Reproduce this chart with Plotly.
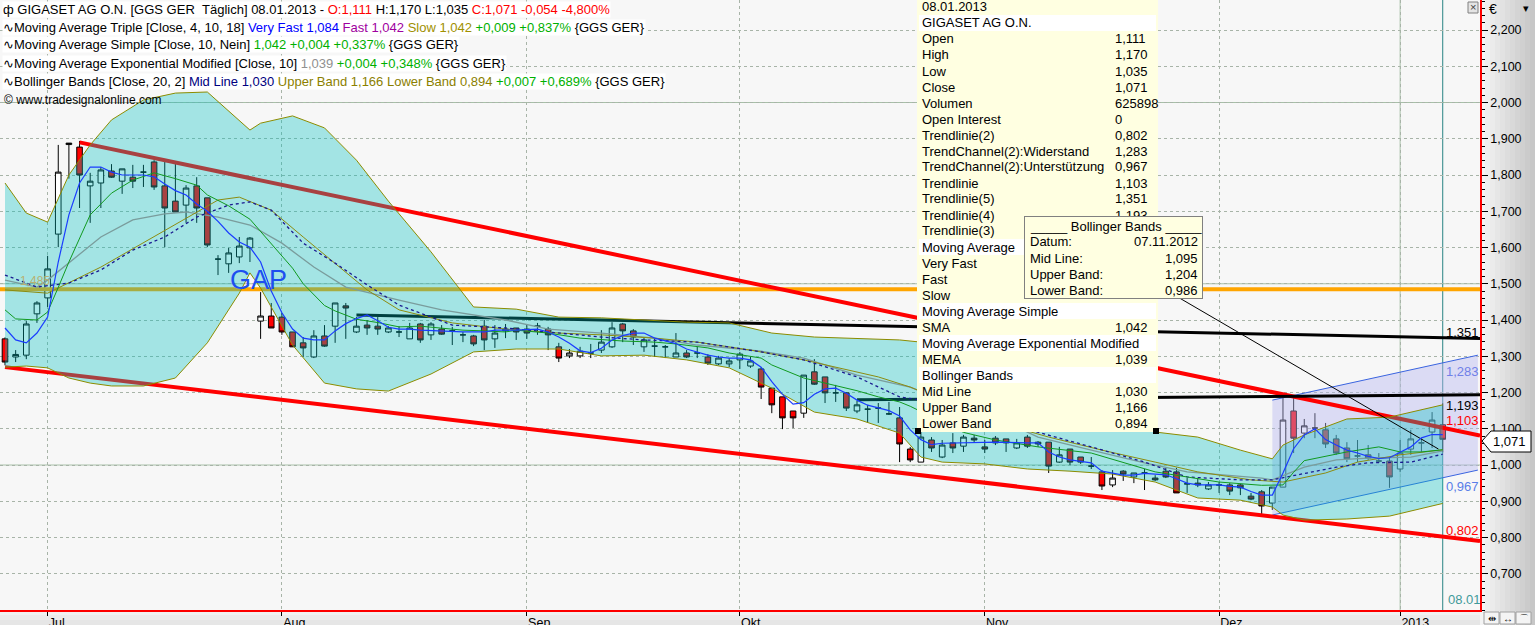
import plotly.graph_objects as go

# ---------------- data ----------------
month_tick_idx = [4, 26, 49, 69, 92, 114, 131]
month_tick_text = ["Jul", "Aug", "Sep", "Okt", "Nov", "Dez", "2013"]
price_ticks = [0.7, 0.8, 0.9, 1.0, 1.1, 1.2, 1.3, 1.4, 1.5, 1.6, 1.7, 1.8, 1.9, 2.0, 2.1, 2.2]

opens = [1.348, 1.298, 1.303, 1.417, 1.461, 1.637, 1.884, 1.877, 1.770, 1.778,
         1.811, 1.783, 1.794, 1.808, 1.836, 1.770, 1.728, 1.717, 1.770, 1.737,
         1.568, 1.555, 1.574, 1.599, 1.397, 1.411, 1.408, 1.367, 1.337, 1.298,
         1.356, 1.383, 1.439, 1.367, 1.386, 1.383, 1.367, 1.367, 1.348, 1.389,
         1.359, 1.375, 1.370, 1.359, 1.356, 1.383, 1.348, 1.370, 1.378, 1.375,
         1.383, 1.375, 1.326, 1.301, 1.301, 1.309, 1.317, 1.326, 1.389, 1.370,
         1.326, 1.328, 1.326, 1.298, 1.309, 1.309, 1.298, 1.279, 1.279, 1.290,
         1.273, 1.265, 1.212, 1.188, 1.149, 1.143, 1.257, 1.243, 1.199, 1.199,
         1.149, 1.154, 1.157, 1.141, 1.130, 1.044, 1.008, 1.069, 1.022, 1.061,
         1.052, 1.074, 1.050, 1.074, 1.072, 1.047, 1.077, 1.063, 1.063, 1.008,
         1.044, 1.022, 0.997, 0.981, 0.945, 0.983, 0.967, 0.978, 0.964, 0.983,
         0.981, 0.948, 0.950, 0.934, 0.945, 0.945, 0.945, 0.914, 0.926, 0.895,
         0.939, 1.149, 1.088, 1.102, 1.097, 1.072, 1.047, 1.025, 1.028, 1.011,
         1.011, 0.989, 1.044, 1.061, 1.091, 1.111]
highs = [1.352, 1.317, 1.397, 1.452, 1.577, 1.883, 1.888, 1.894, 1.806, 1.822,
         1.830, 1.817, 1.828, 1.828, 1.841, 1.841, 1.833, 1.772, 1.794, 1.737,
         1.579, 1.599, 1.629, 1.629, 1.477, 1.447, 1.419, 1.367, 1.353, 1.372,
         1.386, 1.447, 1.447, 1.408, 1.400, 1.408, 1.383, 1.383, 1.392, 1.392,
         1.394, 1.386, 1.381, 1.367, 1.359, 1.400, 1.386, 1.389, 1.378, 1.386,
         1.392, 1.381, 1.337, 1.320, 1.326, 1.334, 1.372, 1.394, 1.392, 1.375,
         1.353, 1.350, 1.331, 1.364, 1.317, 1.326, 1.306, 1.301, 1.295, 1.312,
         1.298, 1.270, 1.212, 1.188, 1.149, 1.248, 1.292, 1.243, 1.221, 1.201,
         1.177, 1.166, 1.171, 1.174, 1.160, 1.050, 1.102, 1.077, 1.069, 1.088,
         1.083, 1.083, 1.069, 1.080, 1.072, 1.072, 1.083, 1.066, 1.063, 1.050,
         1.044, 1.022, 1.022, 0.986, 0.986, 0.986, 0.978, 0.989, 0.972, 0.992,
         0.992, 0.964, 0.964, 0.953, 0.953, 0.950, 0.948, 0.923, 0.931, 0.939,
         1.185, 1.185, 1.127, 1.143, 1.116, 1.083, 1.063, 1.069, 1.055, 1.033,
         1.022, 1.069, 1.097, 1.074, 1.146, 1.170]
lows = [1.275, 1.284, 1.292, 1.392, 1.436, 1.601, 1.790, 1.709, 1.668, 1.709,
        1.792, 1.748, 1.764, 1.767, 1.759, 1.601, 1.698, 1.668, 1.668, 1.601,
        1.524, 1.530, 1.557, 1.560, 1.348, 1.378, 1.359, 1.326, 1.298, 1.295,
        1.326, 1.337, 1.348, 1.364, 1.359, 1.359, 1.364, 1.353, 1.348, 1.337,
        1.345, 1.359, 1.331, 1.339, 1.328, 1.317, 1.323, 1.350, 1.345, 1.348,
        1.359, 1.317, 1.284, 1.295, 1.295, 1.295, 1.309, 1.323, 1.339, 1.331,
        1.312, 1.298, 1.295, 1.298, 1.295, 1.295, 1.276, 1.276, 1.270, 1.265,
        1.268, 1.182, 1.143, 1.099, 1.102, 1.130, 1.221, 1.171, 1.174, 1.149,
        1.143, 1.116, 1.116, 1.138, 1.008, 1.008, 1.008, 1.036, 1.019, 1.033,
        1.036, 1.063, 1.033, 1.055, 1.036, 1.044, 1.047, 1.050, 0.978, 1.006,
        1.000, 1.003, 0.989, 0.931, 0.939, 0.956, 0.950, 0.931, 0.956, 0.964,
        0.923, 0.923, 0.939, 0.931, 0.923, 0.917, 0.917, 0.903, 0.862, 0.876,
        0.939, 1.033, 1.074, 1.074, 1.047, 1.028, 1.008, 1.008, 1.014, 1.006,
        0.937, 0.981, 1.028, 1.036, 1.047, 1.035]
closes = [1.284, 1.305, 1.389, 1.447, 1.541, 1.808, 1.888, 1.800, 1.783, 1.814,
          1.794, 1.817, 1.783, 1.808, 1.767, 1.709, 1.698, 1.764, 1.709, 1.607,
          1.568, 1.585, 1.604, 1.626, 1.411, 1.378, 1.367, 1.326, 1.323, 1.356,
          1.328, 1.447, 1.433, 1.383, 1.378, 1.375, 1.378, 1.367, 1.378, 1.345,
          1.389, 1.361, 1.370, 1.359, 1.334, 1.345, 1.364, 1.375, 1.367, 1.364,
          1.383, 1.359, 1.295, 1.309, 1.314, 1.309, 1.339, 1.378, 1.370, 1.353,
          1.345, 1.328, 1.326, 1.309, 1.298, 1.309, 1.281, 1.295, 1.287, 1.306,
          1.287, 1.215, 1.166, 1.130, 1.130, 1.248, 1.223, 1.199, 1.199, 1.157,
          1.166, 1.154, 1.157, 1.141, 1.058, 1.014, 1.077, 1.047, 1.055, 1.047,
          1.077, 1.069, 1.044, 1.061, 1.061, 1.061, 1.052, 1.058, 0.997, 1.028,
          1.008, 1.008, 0.997, 0.942, 0.964, 0.975, 0.978, 0.978, 0.959, 0.967,
          0.923, 0.948, 0.945, 0.945, 0.945, 0.928, 0.937, 0.906, 0.887, 0.939,
          1.124, 1.074, 1.108, 1.102, 1.058, 1.033, 1.017, 1.025, 1.019, 1.011,
          0.967, 1.033, 1.072, 1.061, 1.124, 1.071]
day_idx = list(range(len(closes)))

# Bollinger Bands (20, 2) read at sample days
band_idx = [0, 2, 4, 6, 8, 10, 13, 16, 19, 22, 23, 24, 27, 30, 33, 36, 40, 44, 48, 52,
            56, 60, 64, 68, 72, 76, 80, 84, 86, 88, 92, 96, 100, 104, 108, 112, 116, 119, 120, 122,
            126, 130, 135]
band_upper = [1.778, 1.695, 1.670, 1.800, 1.883, 1.952, 2.007, 2.026, 2.029, 1.952,
              1.924, 1.943, 1.963, 1.930, 1.841, 1.728, 1.588, 1.436, 1.430, 1.408,
              1.406, 1.400, 1.394, 1.392, 1.364, 1.353, 1.350, 1.345, 1.339, 1.331,
              1.290, 1.221, 1.166, 1.119, 1.091, 1.077, 1.041, 1.017, 1.055, 1.083,
              1.127, 1.132, 1.166]
band_lower = [1.270, 1.273, 1.268, 1.240, 1.226, 1.218, 1.218, 1.240, 1.337, 1.474,
              1.530, 1.488, 1.331, 1.226, 1.210, 1.204, 1.251, 1.312, 1.320, 1.320,
              1.301, 1.303, 1.290, 1.268, 1.212, 1.146, 1.127, 1.088, 1.022, 1.008,
              1.003, 0.989, 0.983, 0.975, 0.953, 0.909, 0.903, 0.884, 0.862, 0.848,
              0.851, 0.859, 0.894]
mid_idx = [0, 3, 6, 9, 12, 15, 18, 21, 23, 25, 28, 31, 34, 37, 40, 42, 47, 52, 56, 60,
           65, 71, 75, 80, 84, 86, 97, 102, 107, 111, 116, 119, 125, 128, 132, 134, 135]
mid_line = [1.524, 1.491, 1.502, 1.538, 1.593, 1.629, 1.684, 1.717, 1.726, 1.703,
            1.612, 1.557, 1.497, 1.441, 1.408, 1.386, 1.378, 1.364, 1.353, 1.345,
            1.339, 1.312, 1.290, 1.243, 1.188, 1.179, 1.091, 1.050, 1.008, 0.967,
            0.959, 0.959, 0.994, 1.006, 1.008, 1.022, 1.030]

# Moving Average Triple: Very Fast (4)
vfast_idx = [0, 1, 2, 3, 4, 5, 6, 7, 8, 9, 10, 11, 13, 14, 15, 16, 17, 18, 19, 20,
             21, 22, 23, 24, 25, 26, 27, 28, 29, 30, 31, 32, 33, 34, 35, 36, 37, 38, 39, 41,
             43, 45, 46, 48, 50, 51, 52, 53, 54, 55, 56, 57, 58, 59, 60, 61, 62, 63, 64, 65,
             66, 67, 68, 69, 70, 71, 72, 73, 74, 75, 76, 77, 78, 79, 80, 81, 82, 83, 84, 85,
             86, 87, 88, 90, 93, 96, 97, 98, 99, 100, 101, 102, 103, 104, 105, 106, 107, 108, 109, 110,
             111, 112, 114, 115, 116, 117, 118, 119, 120, 121, 122, 123, 124, 125, 126, 127, 128, 129, 130, 131,
             132, 133, 134, 135]
very_fast = [1.378, 1.345, 1.337, 1.364, 1.408, 1.560, 1.690, 1.778, 1.822, 1.822,
             1.808, 1.800, 1.800, 1.795, 1.775, 1.757, 1.745, 1.720, 1.700, 1.672,
             1.640, 1.615, 1.601, 1.560, 1.480, 1.420, 1.375, 1.350, 1.345, 1.345,
             1.370, 1.390, 1.404, 1.414, 1.398, 1.380, 1.375, 1.375, 1.372, 1.369,
             1.367, 1.367, 1.372, 1.372, 1.375, 1.367, 1.353, 1.336, 1.315, 1.310,
             1.322, 1.345, 1.357, 1.364, 1.364, 1.350, 1.342, 1.335, 1.320, 1.311,
             1.303, 1.298, 1.295, 1.295, 1.290, 1.270, 1.230, 1.195, 1.168, 1.172,
             1.195, 1.210, 1.212, 1.198, 1.179, 1.165, 1.157, 1.150, 1.135, 1.097,
             1.070, 1.056, 1.060, 1.061, 1.063, 1.061, 1.061, 1.036, 1.022, 1.014,
             1.009, 1.006, 0.983, 0.977, 0.972, 0.972, 0.977, 0.975, 0.973, 0.962,
             0.950, 0.945, 0.945, 0.941, 0.939, 0.927, 0.917, 0.917, 0.978, 1.045,
             1.083, 1.100, 1.070, 1.055, 1.041, 1.033, 1.024, 1.018, 1.020, 1.035,
             1.050, 1.075, 1.084, 1.084]
# Moving Average Simple (10) -- coincides with Triple "Fast"
sma_idx = [0, 1, 3, 4, 5, 6, 8, 10, 12, 14, 16, 18, 19, 21, 23, 25, 27, 28, 30, 31,
           33, 35, 37, 39, 41, 43, 45, 47, 48, 51, 54, 56, 58, 61, 63, 66, 68, 71, 72, 75,
           77, 80, 82, 84, 85, 88, 90, 93, 97, 102, 105, 108, 111, 114, 118, 120, 121, 122, 126, 129,
           131, 133, 135]
sma = [1.428, 1.403, 1.400, 1.422, 1.490, 1.560, 1.690, 1.750, 1.786, 1.806,
       1.790, 1.772, 1.745, 1.715, 1.678, 1.612, 1.543, 1.500, 1.440, 1.425,
       1.402, 1.393, 1.381, 1.383, 1.378, 1.372, 1.370, 1.367, 1.372, 1.364,
       1.350, 1.345, 1.342, 1.339, 1.334, 1.323, 1.309, 1.295, 1.276, 1.240,
       1.226, 1.205, 1.188, 1.174, 1.162, 1.120, 1.090, 1.069, 1.050, 1.033,
       1.006, 0.981, 0.967, 0.953, 0.944, 0.945, 0.980, 1.012, 1.036, 1.050,
       1.036, 1.036, 1.042]
# Moving Average Triple: Slow (18)
slow_idx = [0, 4, 9, 15, 20, 22, 25, 28, 31, 34, 37, 42, 47, 52, 56, 61, 65, 70, 75, 82,
            85, 89, 93, 98, 103, 108, 112, 117, 120, 124, 127, 131, 135]
slow = [1.483, 1.474, 1.546, 1.648, 1.731, 1.739, 1.703, 1.629, 1.557, 1.483,
        1.428, 1.392, 1.375, 1.364, 1.359, 1.350, 1.339, 1.317, 1.290, 1.243,
        1.215, 1.166, 1.119, 1.077, 1.041, 1.008, 0.981, 0.959, 0.953, 0.978,
        1.008, 1.028, 1.042]
# Moving Average Exponential Modified (10)
mema_idx = [0, 3, 4, 6, 9, 12, 15, 17, 20, 23, 26, 29, 32, 37, 41, 47, 51, 56, 61, 65,
            71, 75, 80, 85, 88, 93, 97, 102, 107, 111, 118, 119, 122, 125, 128, 132, 135]
mema = [1.510, 1.491, 1.510, 1.557, 1.629, 1.676, 1.693, 1.698, 1.684, 1.662,
        1.612, 1.546, 1.491, 1.455, 1.428, 1.400, 1.375, 1.364, 1.350, 1.331,
        1.314, 1.295, 1.248, 1.215, 1.179, 1.132, 1.077, 1.041, 1.006, 0.981,
        0.964, 0.959, 0.994, 1.014, 1.019, 1.022, 1.039]

# drawn trend lines (anchor day, price)
tl_upper_idx, tl_upper = [7, 138.5], [1.890, 1.081]          # Trendlinie = 1,103
tl_lower_idx, tl_lower = [0, 138.5], [1.270, 0.790]          # Trendlinie(2) = 0,802
tl5_idx, tl5 = [33, 138.5], [1.414, 1.349]                   # Trendlinie(5) = 1,351
tl4_idx, tl4 = [80, 138.5], [1.180, 1.194]                   # Trendlinie(4) = 1,193
tl3_idx, tl3 = [106, 134.6], [1.534, 1.044]                  # Trendlinie(3)
ch_idx = [119.0, 138.3]
ch_upper = [1.179, 1.303]                                    # Widerstand 1,283
ch_lower = [0.862, 0.986]                                    # Unterstützung 0,967
hline_idx, hline_val = [-0.5, 138.5], [1.485, 1.485]

X_RANGE = [-0.4695, 138.5]
Y_RANGE = [0.6, 2.2828]

FONT = "Liberation Sans, Arial, sans-serif"
PW, PH = 1480.0, 610.0


def px(x):
    return x / PW


def py(y):
    return 1 - y / PH


fig = go.Figure()

fig.add_trace(go.Candlestick(
    x=day_idx, open=opens, high=highs, low=lows, close=closes,
    increasing=dict(fillcolor="#ffffff", line=dict(color="#000000", width=1)),
    decreasing=dict(fillcolor="#ff0000", line=dict(color="#000000", width=1)),
    whiskerwidth=0, hoverinfo="skip", showlegend=False))


def line(x, y, color, width, dash="solid", **kw):
    fig.add_trace(go.Scatter(x=x, y=y, mode="lines", line=dict(color=color, width=width, dash=dash),
                             hoverinfo="skip", showlegend=False, **kw))


# trend channel
line(ch_idx, ch_lower, "#3a64e0", 1)
line(ch_idx, ch_upper, "#3a64e0", 1, fill="tonexty", fillcolor="rgba(180,180,240,0.42)")
# horizontal 1,485 line
line(hline_idx, hline_val, "#ffa500", 4)
# red trendlines
line(tl_upper_idx, tl_upper, "#ff0000", 4)
line(tl_lower_idx, tl_lower, "#ff0000", 4)
# black trendlines
line(tl5_idx, tl5, "#000000", 3)
line(tl4_idx, tl4, "#000000", 3)
# Bollinger band
line(band_idx, band_lower, "#8c8c00", 1)
line(band_idx, band_upper, "#8c8c00", 1, fill="tonexty", fillcolor="rgba(0,190,190,0.34)")
# thin trendline
line(tl3_idx, tl3, "#000000", 1)
# moving averages
line(mema_idx, mema, "#7a9c9c", 1.3)
line(slow_idx, slow, "#8c8c10", 1)
line(mid_idx, mid_line, "#1a1a90", 1.3, dash="dot")
line(sma_idx, sma, "#109a20", 1)
line(vfast_idx, very_fast, "#1a3cff", 1.2)

shapes = []
# axis-area backgrounds (gradients)
n = 11
for k in range(n):
    g = int(244 - k * 4.5)
    shapes.append(dict(type="rect", xref="paper", yref="paper", layer="below",
                       x0=px(PW + k * 5), x1=px(PW + (k + 1) * 5 + 1), y0=py(625), y1=1,
                       fillcolor=f"rgb({g},{g},{g})", line=dict(width=0)))
for k in range(3):
    g = int(242 - k * 6)
    shapes.append(dict(type="rect", xref="paper", yref="paper", layer="below",
                       x0=0, x1=1, y0=py(610 + (k + 1) * 5), y1=py(610 + k * 5),
                       fillcolor=f"rgb({g},{g},{g})", line=dict(width=0)))
# solid grid lines
for yv in [1.0, 1.5, 2.0]:
    shapes.append(dict(type="line", xref="paper", yref="y", x0=0, x1=1, y0=yv, y1=yv,
                       layer="below", line=dict(color="#a8c0a8", width=1)))
shapes.append(dict(type="line", xref="x", yref="paper", x0=131, x1=131, y0=0, y1=1,
                   layer="below", line=dict(color="#a8c0a8", width=1)))
shapes.append(dict(type="line", xref="x", yref="paper", x0=135, x1=135, y0=0, y1=1,
                   layer="below", line=dict(color="#2a8484", width=1)))
# main tooltip
shapes.append(dict(type="rect", xref="paper", yref="paper", x0=px(917), x1=px(1158), y0=py(432), y1=1,
                   fillcolor="#ffffe1", line=dict(width=0)))
for cy in [23, 247, 311, 343, 375]:
    shapes.append(dict(type="rect", xref="paper", yref="paper", x0=px(919), x1=px(1156),
                       y0=py(cy + 8), y1=py(cy - 8), fillcolor="#ffffff", line=dict(width=0)))
for cx in [918, 1156]:
    shapes.append(dict(type="rect", xref="paper", yref="paper", x0=px(cx - 3), x1=px(cx + 3),
                       y0=py(434), y1=py(428), fillcolor="#000000", line=dict(width=0)))
# price marker on the axis
shapes.append(dict(type="path", xref="paper", yref="paper",
                   path=f"M {px(1482)} {py(441)} L {px(1491)} {py(431)} L {px(1531)} {py(431)} "
                        f"L {px(1531)} {py(452)} L {px(1491)} {py(452)} Z",
                   fillcolor="#ffffff", line=dict(color="#000000", width=1)))
# close box top right
shapes.append(dict(type="rect", xref="paper", yref="paper", x0=px(1468), x1=px(1478), y0=py(13), y1=py(2),
                   fillcolor="#e4e4e4", line=dict(color="#808080", width=1)))
# little tool buttons bottom right
for bx in [1484, 1500, 1516]:
    shapes.append(dict(type="rect", xref="paper", yref="paper", x0=px(bx), x1=px(bx + 15), y0=py(624), y1=py(612),
                       fillcolor="#f4f4f4", line=dict(color="#a0a0a0", width=1)))

ann = []


def text(x, y, s, color="#000000", size=13, xanchor="left", yanchor="middle", bg=None, **kw):
    d = dict(xref="paper", yref="paper", x=px(x), y=py(y), text=s, showarrow=False,
             xanchor=xanchor, yanchor=yanchor, font=dict(family=FONT, size=size, color=color), **kw)
    if bg:
        d["bgcolor"] = bg
        d["borderpad"] = 0
    ann.append(d)


def span(c, s):
    return f"<span style='color:{c}'>{s}</span>"


# header legend
text(2, 9, "ф GIGASET AG O.N. [GGS GER\u00a0\u00a0Täglich] 08.01.2013 - " + span("#ff0000", "O:1,111")
     + " H:1,170 L:1,035 " + span("#ff0000", "C:1,071 -0,054 -4,800%"), bg="#ffffff")
text(2, 27, "∿Moving Average Triple [Close, 4, 10, 18] " + span("#0000ff", "Very Fast 1,084") + " "
     + span("#a000a0", "Fast 1,042") + " " + span("#a09000", "Slow 1,042") + " "
     + span("#00b000", "+0,009 +0,837%") + " {GGS GER}", bg="#ffffff")
text(2, 45, "∿Moving Average Simple [Close, 10, Nein] " + span("#00b000", "1,042 +0,004 +0,337%")
     + " {GGS GER}", bg="#ffffff")
text(2, 63, "∿Moving Average Exponential Modified [Close, 10] " + span("#909090", "1,039") + " "
     + span("#00b000", "+0,004 +0,348%") + " {GGS GER}", bg="#ffffff")
text(2, 81, "∿Bollinger Bands [Close, 20, 2] " + span("#000080", "Mid Line 1,030") + " "
     + span("#8b8000", "Upper Band 1,166 Lower Band 0,894") + " "
     + span("#00b000", "+0,007 +0,689%") + " {GGS GER}", bg="#ffffff")
text(2, 100, "© www.tradesignalonline.com", size=12)

# chart labels
text(258, 280, "GAP", color="#1e4ff0", size=27, xanchor="center")
text(18, 281, "1,485", color="#b8b070", size=12)
text(1444, 332, "1,351", color="#000000")
text(1444, 371, "1,283", color="#7080e8")
text(1444, 405, "1,193", color="#000000")
text(1444, 420, "1,103", color="#ff0000")
text(1444, 486, "0,967", color="#5a7ee8")
text(1444, 530, "0,802", color="#ff0000")
text(1446, 599, "08.01", color="#3f9a9a")

# main tooltip (rows partly hidden by the second box are shown as they appear)
rows = [("08.01.2013", ""), ("GIGASET AG O.N.", ""), ("Open", "1,111"), ("High", "1,170"),
        ("Low", "1,035"), ("Close", "1,071"), ("Volumen", "625898"), ("Open Interest", "0"),
        ("Trendlinie(2)", "0,802"), ("TrendChannel(2):Widerstand", "1,283"),
        ("TrendChannel(2):Unterstützung", "0,967"), ("Trendlinie", "1,103"), ("Trendlinie(5)", "1,351"),
        ("Trendlinie(4)", "1,193"), ("Trendlinie(3)", ""), ("Moving Average", ""),
        ("Very Fast", ""), ("Fast", ""), ("Slow", ""), ("Moving Average Simple", ""),
        ("SMA", "1,042"), ("Moving Average Exponential Modified", ""), ("MEMA", "1,039"),
        ("Bollinger Bands", ""), ("Mid Line", "1,030"), ("Upper Band", "1,166"), ("Lower Band", "0,894")]
for k, (lab, val) in enumerate(rows):
    cy = 7 + 16 * k
    text(920, cy, lab)
    if val:
        text(1113, cy, val)

# second (Bollinger) tooltip box on top
ann.append(dict(xref="paper", yref="paper", x=px(1024), y=py(216), xanchor="left", yanchor="top",
                text="", showarrow=False, width=177, height=81, bgcolor="#ffffe1",
                bordercolor="#808080", borderwidth=1, borderpad=0))
text(1028, 226, "_____ Bollinger Bands _____")
for k, (lab, val) in enumerate([("Datum:", "07.11.2012"), ("Mid Line:", "1,095"),
                                ("Upper Band:", "1,204"), ("Lower Band:", "0,986")]):
    text(1028, 242 + 16 * k, lab)
    text(1200, 242 + 16 * k, val, xanchor="right")

# axis decorations
text(1510, 441, "1,071", xanchor="center")
text(1487, 9, "€", size=14)
text(1526, 8, "▾", size=11, xanchor="center")
text(1473, 7, "×", size=11, xanchor="center", color="#404040")
for bx, g in [(1484, "⇹"), (1500, "↔"), (1516, "⌒")]:
    text(bx + 7.5, 618, g, size=10, xanchor="center")

fig.update_layout(
    width=1535, height=625, autosize=False,
    margin=dict(l=0, r=55, t=0, b=15),
    paper_bgcolor="#ececec", plot_bgcolor="#f7f7f7",
    separators=",.",
    showlegend=False,
    boxgap=0.25,
    shapes=shapes, annotations=ann,
    xaxis=dict(range=X_RANGE, rangeslider=dict(visible=False), tickmode="array",
               tickvals=month_tick_idx, ticktext=month_tick_text, ticks="outside", ticklen=4,
               tickcolor="#000000", ticklabelposition="outside right",
               tickfont=dict(family=FONT, size=12.5, color="#000000"),
               showgrid=True, gridcolor="#a8b4a8", griddash="dot", gridwidth=1,
               showline=True, linecolor="#ff0000", linewidth=1.5, zeroline=False,
               fixedrange=True, automargin=False),
    yaxis=dict(range=Y_RANGE, side="right", tickmode="array", tickvals=price_ticks,
               tickformat=".3f", ticks="outside", ticklen=6, tickcolor="#000000",
               tickfont=dict(family=FONT, size=12.5, color="#000000"),
               minor=dict(dtick=0.02, tick0=0, ticks="outside", ticklen=3, tickcolor="#000000",
                          showgrid=False),
               showgrid=True, gridcolor="#a8b4a8", griddash="dot", gridwidth=1,
               showline=True, linecolor="#ff0000", linewidth=1.5, zeroline=False,
               fixedrange=True, automargin=False),
)

fig.write_html("out.html", config={"displayModeBar": False},
               post_script="document.body.style.margin='0';document.body.style.overflow='hidden';")
